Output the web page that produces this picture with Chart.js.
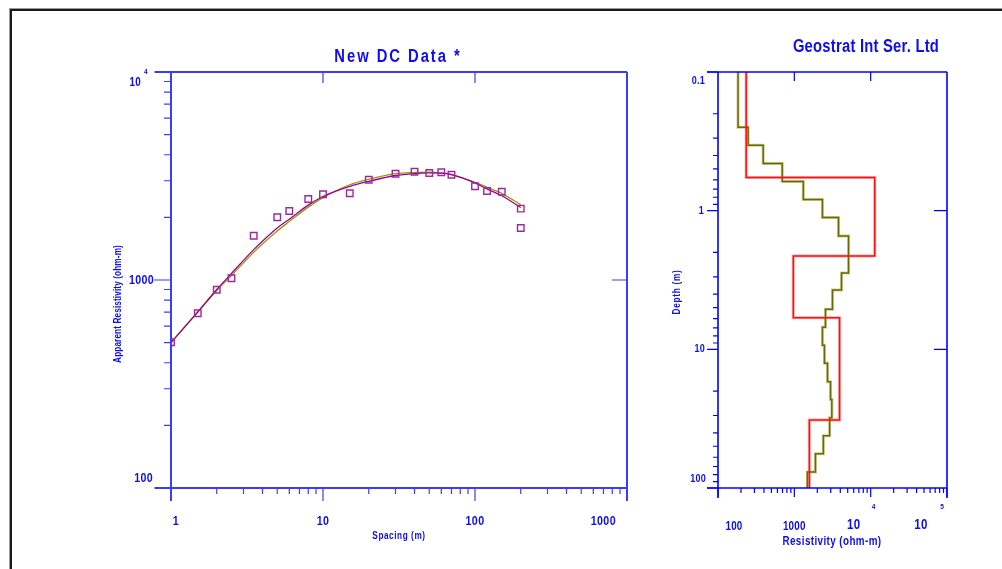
<!DOCTYPE html>
<html>
<head>
<meta charset="utf-8">
<script src="https://cdn.jsdelivr.net/npm/chart.js@4.4.1/dist/chart.umd.min.js"></script>
<style>
  html, body { margin: 0; padding: 0; background: #fff; }
  #wrap { position: relative; width: 1002px; height: 569px; overflow: hidden; }
  #frame { position: absolute; left: 10px; top: 9px; width: 1100px; height: 700px;
           border-left: 2px solid #1a1a1a; border-top: 2px solid #1a1a1a; box-shadow: -1px -1px 0 #9a9a9a; }
  canvas { position: absolute; left: 0; top: 0; }
</style>
</head>
<body>
<div id="wrap">
  <div id="frame"></div>
  <canvas id="sounding" width="1002" height="569"></canvas>
  <canvas id="model" width="1002" height="569"></canvas>
</div>
<script>
// ---- sounding curve (left panel) ----
const spacing = [1, 1.5, 2, 2.5, 3.5, 5, 6, 8, 10, 15, 20, 30, 40, 50, 60, 70, 100, 120, 150, 200, 200];
const observedRes = [502, 692, 898, 1019, 1633, 2002, 2148, 2452, 2585, 2612, 3035, 3243, 3317, 3269, 3295, 3208, 2822, 2679, 2658, 2203, 1778];

const curveSpacing = [1, 1.5, 2, 2.5, 3.5, 5, 6, 8, 10, 15, 20, 30, 40, 50, 60, 70, 100, 120, 150, 200];
const calcRes  = [500, 703, 900, 1075, 1400, 1780, 1960, 2290, 2520, 2820, 2980, 3180, 3250, 3275, 3265, 3215, 2930, 2740, 2540, 2230];
const modelRes = [500, 700, 890, 1050, 1360, 1720, 1910, 2240, 2490, 2870, 3050, 3250, 3290, 3300, 3270, 3210, 2950, 2790, 2610, 2300];

// ---- layered model (right panel) ----
const layerRes    = [234, 11300, 970, 3910, 1574];
const layerBottom = [0.577, 2.12, 5.93, 32.3];

const smoothRes    = [183, 248, 391, 695, 1312, 2335, 3790, 5130, 4150, 3160, 2560, 2335, 2480, 2720, 2980, 3100, 2900, 2400, 1890, 1480];
const smoothBottom = [0.25, 0.338, 0.456, 0.616, 0.832, 1.12, 1.52, 2.81, 3.73, 5.13, 6.93, 9.36, 12.6, 17.1, 23, 31.1, 42, 56.7, 76.6];

// axis ranges
const spacingRange = [1, 1000];
const appResRange  = [100, 10000];
const resRange     = [100, 100000];
const depthRange   = [0.1, 100];

const FONT = '"Liberation Sans", Arial, sans-serif';
const TEXT = '#0c0cf5';

function logSteps(min, max) {
  const out = [];
  for (let e = Math.floor(Math.log10(min)); e <= Math.ceil(Math.log10(max)); e++) {
    for (let m = 1; m < 10; m++) {
      const v = m * Math.pow(10, e);
      if (v >= min * 0.999 && v <= max * 1.001) out.push(v);
    }
  }
  return out;
}
function isDecade(v) {
  const l = Math.log10(v);
  return Math.abs(l - Math.round(l)) < 1e-9;
}

function stepPoints(res, bottoms, top, base) {
  const pts = [];
  let d = top;
  res.forEach((r, i) => {
    const next = i < bottoms.length ? bottoms[i] : base;
    pts.push({x: r, y: d}, {x: r, y: next});
    d = next;
  });
  return pts;
}

// narrow bold text (Arial squeezed like Arial Narrow)
function label(ctx, txt, x, y, size, align, spacingPx, rot) {
  ctx.save();
  ctx.translate(x, y);
  if (rot) ctx.rotate(rot);
  ctx.scale(0.82, 1);
  ctx.font = 'bold ' + size + 'px ' + FONT;
  ctx.textAlign = align || 'center';
  ctx.textBaseline = 'middle';
  ctx.letterSpacing = (spacingPx || 0) + 'px';
  ctx.fillText(txt, 0, 0);
  ctx.restore();
}

const soundingFrame = {
  id: 'soundingFrame',
  afterDraw(chart) {
    const {ctx, chartArea: a, scales: {x, y}} = chart;
    ctx.save();
    ctx.strokeStyle = '#3c3cff';
    ctx.lineWidth = 1.2;
    ctx.beginPath();
    logSteps(spacingRange[0], spacingRange[1]).forEach(v => {
      const px = x.getPixelForValue(v);
      ctx.moveTo(px, a.bottom);
      ctx.lineTo(px, a.bottom + (isDecade(v) ? 13 : 6));
      if (isDecade(v) && v > 1 && v < 1000) { ctx.moveTo(px, a.top); ctx.lineTo(px, a.top + 11); }
    });
    logSteps(appResRange[0], appResRange[1]).forEach(v => {
      const py = y.getPixelForValue(v);
      ctx.moveTo(a.left, py);
      ctx.lineTo(a.left - (isDecade(v) ? 17 : 7), py);
      if (v === 1000) { ctx.moveTo(a.right, py); ctx.lineTo(a.right - 15, py); }
    });
    ctx.stroke();

    ctx.lineWidth = 2;
    ctx.beginPath();
    ctx.moveTo(a.left - 16, a.top); ctx.lineTo(a.right, a.top);
    ctx.moveTo(a.left - 16, a.bottom); ctx.lineTo(a.right, a.bottom);
    ctx.moveTo(a.left, a.top); ctx.lineTo(a.left, a.bottom + 13);
    ctx.moveTo(a.right, a.top); ctx.lineTo(a.right, a.bottom + 13);
    ctx.stroke();

    ctx.fillStyle = TEXT;
    // x tick labels
    label(ctx, '1', x.getPixelForValue(1) + 5, 521, 13, 'center', 0.5);
    label(ctx, '10', x.getPixelForValue(10), 521, 13, 'center', 0.5);
    label(ctx, '100', x.getPixelForValue(100), 521, 13, 'center', 0.5);
    label(ctx, '1000', x.getPixelForValue(1000) - 11, 521, 13, 'right', 0.5);
    // y tick labels
    label(ctx, '1000', a.left - 17, y.getPixelForValue(1000), 13, 'right', 0.4);
    label(ctx, '100', a.left - 18, a.bottom - 10, 13, 'right', 0.4);
    label(ctx, '10', a.left - 30, a.top + 11, 12, 'right', 0.3);
    label(ctx, '4', a.left - 27, a.top, 8, 'left', 0);
    // axis titles
    label(ctx, 'Spacing (m)', x.getPixelForValue(31.6), 536, 10, 'center', 0.7);
    label(ctx, 'Apparent Resistivity (ohm-m)', 118, (a.top + a.bottom) / 2 + 24, 10, 'center', 0.15, -Math.PI / 2);
    // title
    label(ctx, 'New DC Data *', 398, 57, 18, 'center', 2.4);
    ctx.restore();
  }
};

const modelFrame = {
  id: 'modelFrame',
  afterDraw(chart) {
    const {ctx, chartArea: a, scales: {x, y}} = chart;
    ctx.save();
    ctx.strokeStyle = '#0000ff';
    ctx.lineWidth = 1.2;
    ctx.beginPath();
    logSteps(resRange[0], resRange[1]).forEach(v => {
      const px = x.getPixelForValue(v);
      ctx.moveTo(px, a.bottom);
      ctx.lineTo(px, a.bottom + (isDecade(v) ? 9 : 5));
      if (isDecade(v) && v > 100 && v < 100000) { ctx.moveTo(px, a.top); ctx.lineTo(px, a.top + 9); }
    });
    logSteps(depthRange[0], depthRange[1]).forEach(v => {
      const py = y.getPixelForValue(v);
      ctx.moveTo(a.left, py);
      ctx.lineTo(a.left - (isDecade(v) ? 11 : 5), py);
      if (isDecade(v) && v > 0.1 && v < 100) { ctx.moveTo(a.right, py); ctx.lineTo(a.right - 13, py); }
    });
    ctx.stroke();

    ctx.lineWidth = 1.6;
    ctx.beginPath();
    ctx.moveTo(a.left - 11, a.top); ctx.lineTo(a.right, a.top);
    ctx.moveTo(a.left - 11, a.bottom); ctx.lineTo(a.right, a.bottom);
    ctx.moveTo(a.left, a.top); ctx.lineTo(a.left, a.bottom + 10);
    ctx.moveTo(a.right, a.top); ctx.lineTo(a.right, a.bottom + 10);
    ctx.stroke();

    ctx.fillStyle = TEXT;
    // x tick labels
    label(ctx, '100', x.getPixelForValue(100) + 16, 527, 12, 'center', 0.3);
    label(ctx, '1000', x.getPixelForValue(1000), 527, 12, 'center', 0.3);
    label(ctx, '10', x.getPixelForValue(10000) - 17, 525, 14, 'center', 0.3);
    label(ctx, '4', x.getPixelForValue(10000) + 3, 507, 8, 'center', 0);
    label(ctx, '10', x.getPixelForValue(100000) - 26, 525, 14, 'center', 0.3);
    label(ctx, '5', x.getPixelForValue(100000) - 5, 507, 8, 'center', 0);
    // y tick labels
    label(ctx, '0.1', a.left - 13, a.top + 9, 11, 'right', 0.3);
    label(ctx, '1', a.left - 14, y.getPixelForValue(1), 11, 'right', 0.3);
    label(ctx, '10', a.left - 13, y.getPixelForValue(10), 11, 'right', 0.3);
    label(ctx, '100', a.left - 12, a.bottom - 9, 11, 'right', 0.3);
    // axis titles
    label(ctx, 'Resistivity (ohm-m)', 832, 542, 12, 'center', 0.5);
    label(ctx, 'Depth (m)', 677, 292, 10, 'center', 0.9, -Math.PI / 2);
    // title
    label(ctx, 'Geostrat Int Ser. Ltd', 866, 47, 18, 'center', 0.3);
    ctx.restore();
  }
};

const commonPlugins = { legend: { display: false }, tooltip: { enabled: false } };

new Chart(document.getElementById('sounding'), {
  type: 'scatter',
  data: {
    datasets: [{
      label: 'Observed',
      data: spacing.map((s, i) => ({x: s, y: observedRes[i]})),
      pointStyle: 'rect',
      pointRadius: 4.6,
      borderWidth: 1.4,
      borderColor: '#9a2a9a',
      backgroundColor: 'rgba(255,255,255,0)',
      showLine: false
    }, {
      label: 'Calculated',
      data: curveSpacing.map((s, i) => ({x: s, y: calcRes[i]})),
      showLine: true,
      pointRadius: 0,
      borderColor: '#990099',
      borderWidth: 1.3,
      cubicInterpolationMode: 'monotone'
    }, {
      label: 'Model',
      data: curveSpacing.map((s, i) => ({x: s, y: modelRes[i]})),
      showLine: true,
      pointRadius: 0,
      borderColor: '#9a9a00',
      borderWidth: 1.3,
      cubicInterpolationMode: 'monotone'
    }]
  },
  options: {
    responsive: false,
    animation: false,
    layout: { padding: { left: 171, right: 1002 - 627, top: 72, bottom: 569 - 488 } },
    plugins: commonPlugins,
    scales: {
      x: { type: 'logarithmic', min: spacingRange[0], max: spacingRange[1], display: false },
      y: { type: 'logarithmic', min: appResRange[0], max: appResRange[1], display: false }
    }
  },
  plugins: [soundingFrame]
});

const layerPts = stepPoints(layerRes, layerBottom, depthRange[0], depthRange[1]);
const smoothPts = stepPoints(smoothRes, smoothBottom, depthRange[0], depthRange[1]);

new Chart(document.getElementById('model'), {
  type: 'scatter',
  data: {
    datasets: [{
      label: 'Layers',
      data: layerPts,
      showLine: true,
      pointRadius: 0,
      borderColor: '#ff1010',
      borderWidth: 1.5,
      tension: 0
    }, {
      label: 'Smooth',
      data: smoothPts,
      showLine: true,
      pointRadius: 0,
      borderColor: '#6a6a00',
      borderWidth: 1.5,
      tension: 0
    }, {
      // soft halo drawn under the layer line
      label: 'Layers halo',
      data: layerPts,
      showLine: true,
      pointRadius: 0,
      borderColor: 'rgba(255,140,140,0.7)',
      borderWidth: 3,
      tension: 0
    }, {
      label: 'Smooth halo',
      data: smoothPts,
      showLine: true,
      pointRadius: 0,
      borderColor: 'rgba(190,190,110,0.7)',
      borderWidth: 3,
      tension: 0
    }]
  },
  options: {
    responsive: false,
    animation: false,
    layout: { padding: { left: 718, right: 1002 - 947, top: 72, bottom: 569 - 488 } },
    plugins: commonPlugins,
    scales: {
      x: { type: 'logarithmic', min: resRange[0], max: resRange[1], display: false },
      y: { type: 'logarithmic', min: depthRange[0], max: depthRange[1], reverse: true, display: false }
    }
  },
  plugins: [modelFrame]
});
</script>
</body>
</html>
